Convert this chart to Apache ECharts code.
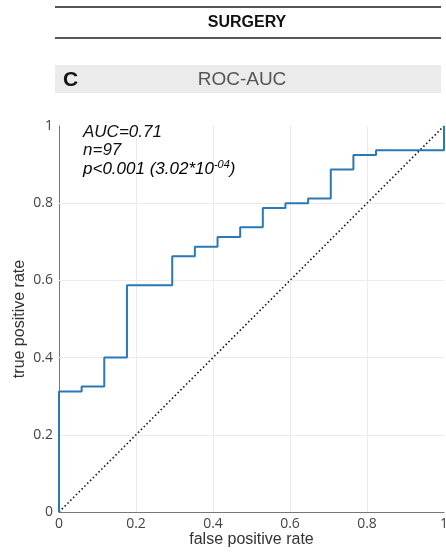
<!DOCTYPE html>
<html>
<head>
<meta charset="utf-8">
<script src="https://cdn.jsdelivr.net/npm/echarts@6/dist/echarts.min.js"></script>
<style>
html,body{margin:0;padding:0;background:#fff;}
#c{width:446px;height:553px;}
</style>
</head>
<body>
<div id="c"></div>
<script>
// ROC step corners: at each false positive rate the curve rises to the given true positive rate
var fprSteps = [0, 0, 0.0588, 0.1176, 0.1765, 0.2941, 0.3529, 0.4118, 0.4706, 0.5294, 0.5882, 0.6471, 0.7059, 0.7647, 0.8235, 1.0];
var tprLevels = [0, 0.3125, 0.325, 0.4, 0.5875, 0.6625, 0.6875, 0.7125, 0.7375, 0.7875, 0.8, 0.8125, 0.8875, 0.925, 0.9375, 1.0];
var chanceX = [0, 1];
var chanceY = [0, 1];
var gridValues = [0.2, 0.4, 0.6, 0.8];
var headerTitle = 'SURGERY';
var panelLetter = 'C';
var panelTitle = 'ROC-AUC';
var statsAUC = 'AUC=0.71';
var statsN = 'n=97';
var statsP = 'p<0.001 (3.02*10';
var statsPExp = '-04';

var roc = fprSteps.map(function (x, i) { return [x, tprLevels[i]]; });
var diag = chanceX.map(function (x, i) { return [x, chanceY[i]]; });
var gridMarks = [];
gridValues.forEach(function (v) { gridMarks.push({xAxis: v}); gridMarks.push({yAxis: v}); });

var chart = echarts.init(document.getElementById('c'), null, {renderer: 'canvas'});
var labelFont = '"Open Sans", "Liberation Sans", sans-serif';
var textFont = '"Liberation Sans", Arial, sans-serif';

chart.setOption({
  animation: false,
  backgroundColor: '#fff',
  grid: {left: 59, right: 2, top: 126, bottom: 41, containLabel: false, outerBoundsMode: 'none'},
  xAxis: {
    type: 'value', min: 0, max: 1, interval: 0.2,
    name: 'false positive rate', nameLocation: 'middle', nameGap: 20, nameMoveOverlap: false,
    nameTextStyle: {fontFamily: textFont, fontSize: 16, color: '#333'},
    axisLine: {show: true, lineStyle: {color: '#777', width: 1}},
    axisTick: {show: false},
    axisLabel: {fontFamily: labelFont, fontSize: 14, color: '#444', margin: 5,
      formatter: function (v) { return String(+v.toFixed(1)); }},
    splitLine: {show: false}
  },
  yAxis: {
    type: 'value', min: 0, max: 1, interval: 0.2,
    name: 'true positive rate', nameLocation: 'middle', nameGap: 31, nameMoveOverlap: false,
    nameTextStyle: {fontFamily: textFont, fontSize: 16, color: '#333'},
    axisLine: {show: true, lineStyle: {color: '#777', width: 1}},
    axisTick: {show: false},
    axisLabel: {fontFamily: labelFont, fontSize: 14, color: '#444', margin: 6,
      formatter: function (v) { return String(+v.toFixed(1)); }},
    splitLine: {show: false}
  },
  series: [
    {
      type: 'line', data: diag, symbol: 'none', silent: true, z: 2,
      lineStyle: {color: '#111', width: 1.6, type: [1.5, 2.5]},
      markLine: {
        silent: true, symbol: ['none', 'none'], label: {show: false}, animation: false,
        lineStyle: {color: '#ececec', width: 1, type: 'solid'},
        data: gridMarks, z: 1
      }
    },
    {
      type: 'line', data: roc, step: 'end', symbol: 'none', z: 3,
      lineStyle: {color: '#2a78b4', width: 2}
    }
  ],
  graphic: [
    {type: 'line', shape: {x1: 55, y1: 7, x2: 441, y2: 7}, style: {stroke: '#555', lineWidth: 2}},
    {type: 'text', x: 247, y: 23, style: {text: headerTitle, fontFamily: textFont, fontWeight: 'bold', fontSize: 16, fill: '#111', align: 'center', verticalAlign: 'middle'}},
    {type: 'line', shape: {x1: 55, y1: 38, x2: 441, y2: 38}, style: {stroke: '#555', lineWidth: 2}},
    {type: 'rect', shape: {x: 55, y: 65, width: 386, height: 28}, style: {fill: '#ebebeb'}},
    {type: 'text', x: 63, y: 80, style: {text: panelLetter, fontFamily: textFont, fontWeight: 'bold', fontSize: 21, fill: '#111', align: 'left', verticalAlign: 'middle'}},
    {type: 'text', x: 242, y: 80, style: {text: panelTitle, fontFamily: textFont, fontSize: 19, fill: '#555', align: 'center', verticalAlign: 'middle'}},
    {type: 'text', x: 83, y: 132, z: 10, style: {text: statsAUC, fontFamily: textFont, fontStyle: 'italic', fontSize: 17, fill: '#111', align: 'left', verticalAlign: 'middle'}},
    {type: 'text', x: 83, y: 150, z: 10, style: {text: statsN, fontFamily: textFont, fontStyle: 'italic', fontSize: 17, fill: '#111', align: 'left', verticalAlign: 'middle'}},
    {type: 'text', x: 83, y: 169, z: 10, style: {
      text: '{a|' + statsP + '}{s|' + statsPExp + '}{a|)}',
      align: 'left', verticalAlign: 'middle',
      rich: {
        a: {fontFamily: textFont, fontStyle: 'italic', fontSize: 17, color: '#111', lineHeight: 20},
        s: {fontFamily: textFont, fontStyle: 'italic', fontSize: 11, color: '#111', lineHeight: 20, verticalAlign: 'top'}
      }
    }}
  ]
});
</script>
</body>
</html>
